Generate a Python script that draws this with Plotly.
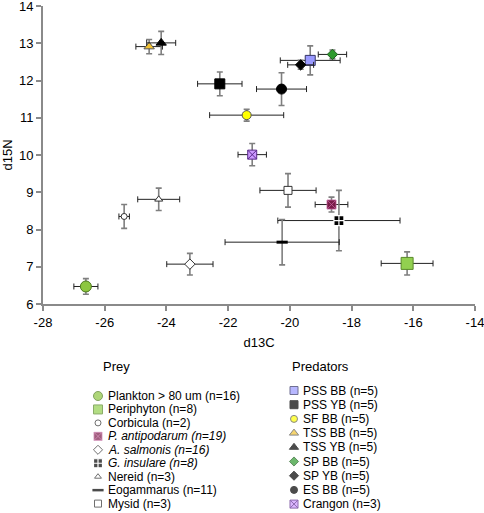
import plotly.graph_objects as go

# ---------------- data ----------------
prey_names = ["Plankton > 80 um (n=16)", "Periphyton (n=8)", "Corbicula (n=2)",
              "<i>P. antipodarum (n=19)</i>", "<i>A. salmonis (n=16)</i>", "<i>G. insulare (n=8)</i>",
              "Nereid (n=3)", "Eogammarus (n=11)", "Mysid (n=3)"]
prey_d13c = [-26.61, -16.20, -25.37, -18.65, -23.24, -18.41, -24.25, -20.25, -20.06]
prey_d15n = [6.47, 7.09, 8.35, 8.67, 7.07, 8.24, 8.81, 7.66, 9.05]
prey_d13c_err = [0.39, 0.84, 0.17, 0.53, 0.75, 1.98, 0.68, 1.85, 0.91]
prey_d15n_err = [0.21, 0.31, 0.32, 0.20, 0.29, 0.81, 0.30, 0.61, 0.45]

pred_names = ["PSS BB (n=5)", "PSS YB (n=5)", "SF BB (n=5)", "TSS BB (n=5)", "TSS YB (n=5)",
              "SP BB (n=5)", "SP YB (n=5)", "ES BB (n=5)", "Crangon (n=3)"]
pred_d13c = [-19.34, -22.27, -21.40, -24.56, -24.17, -18.62, -19.65, -20.27, -21.22]
pred_d15n = [12.54, 11.91, 11.07, 12.91, 13.01, 12.70, 12.42, 11.77, 10.01]
pred_d13c_err = [0.97, 0.72, 1.20, 0.43, 0.47, 0.46, 0.42, 0.81, 0.46]
pred_d15n_err = [0.39, 0.32, 0.16, 0.19, 0.31, 0.12, 0.12, 0.44, 0.30]

x_ticks = [-28, -26, -24, -22, -20, -18, -16, -14]
y_ticks = [6, 7, 8, 9, 10, 11, 12, 13, 14]

# ---------------- styles ----------------
prey_styles = [
    dict(symbol="circle", color="#8CC63F", line=dict(color="#4E7A1E", width=1), size=11, lsize=9),
    dict(symbol="square", color="#92D050", line=dict(color="#5A8A2A", width=1), size=12, lsize=9),
    dict(symbol="circle", color="white", line=dict(color="#333", width=1), size=6, lsize=6),
    dict(symbol="square-x", color="#7A1B48", line=dict(color="#C0609A", width=0.8), size=9, lsize=8),
    dict(symbol="diamond", color="white", line=dict(color="#333", width=1), size=8, lsize=7),
    dict(symbol="square-cross", color="black", line=dict(color="white", width=1.2), size=10, lsize=9),
    dict(symbol="triangle-up", color="white", line=dict(color="#333", width=1), size=7, lsize=6),
    dict(symbol="line-ew", color="black", line=dict(color="black", width=3), size=8, lsize=8),
    dict(symbol="square", color="white", line=dict(color="#333", width=1), size=8, lsize=7),
]
pred_styles = [
    dict(symbol="square", color="#9999FF", line=dict(color="#333366", width=1), size=10, lsize=8),
    dict(symbol="square", color="black", line=dict(color="black", width=1), size=10, lsize=8),
    dict(symbol="circle", color="#FFFF00", line=dict(color="#555", width=1), size=9, lsize=7),
    dict(symbol="triangle-up", color="#F2C232", line=dict(color="#555", width=1), size=9, lsize=8),
    dict(symbol="triangle-up", color="black", line=dict(color="black", width=1), size=9, lsize=8),
    dict(symbol="diamond", color="#2E9A2E", line=dict(color="#1E5E1E", width=1), size=8, lsize=7),
    dict(symbol="diamond", color="black", line=dict(color="black", width=1), size=8, lsize=7),
    dict(symbol="circle", color="black", line=dict(color="black", width=1), size=10, lsize=7),
    dict(symbol="square-x", color="#CC99FF", line=dict(color="#5A2A8A", width=1), size=9, lsize=8),
]

W, H = 484, 513
PLOT_L, PLOT_R, PLOT_T, PLOT_B = 43, 475, 6, 304
FONT = "Liberation Sans, Arial, sans-serif"
ERR_X = dict(color="#222222", thickness=1, width=3)
ERR_Y = dict(color="#7f7f7f", thickness=1.6, width=3)

fig = go.Figure()


def add_group(names, xs, ys, xe, ye, styles):
    for n, x, y, ex, ey, st in zip(names, xs, ys, xe, ye, styles):
        fig.add_trace(go.Scatter(
            x=[x], y=[y], mode="markers", name=n, showlegend=False,
            marker=dict(symbol=st["symbol"], color=st["color"], size=st["size"], line=st["line"]),
            error_x=dict(type="data", array=[ex], visible=True, **ERR_X),
            error_y=dict(type="data", array=[ey], visible=True, **ERR_Y),
            xaxis="x", yaxis="y"))


add_group(prey_names, prey_d13c, prey_d15n, prey_d13c_err, prey_d15n_err, prey_styles)
add_group(pred_names, pred_d13c, pred_d15n, pred_d13c_err, pred_d15n_err, pred_styles)

# ---------------- manual legend (pixel-coordinate overlay axes) ----------------
def add_legend(names, styles, title, mx, tx, y0, dy, title_x, title_y):
    ys = [y0 + i * dy for i in range(len(names))]
    fig.add_trace(go.Scatter(
        x=[mx] * len(names), y=ys, mode="markers", showlegend=False, hoverinfo="skip",
        marker=dict(symbol=[s["symbol"] for s in styles], color=[s["color"] for s in styles],
                    size=[s["lsize"] for s in styles],
                    line=dict(color=[s["line"]["color"] for s in styles],
                              width=[min(s["line"]["width"], 1.5) if s["symbol"] != "line-ew" else 2.5
                                     for s in styles])),
        xaxis="x2", yaxis="y2", cliponaxis=False))
    for n, yy in zip(names, ys):
        fig.add_annotation(x=tx, y=yy, xref="x2", yref="y2", text=n, showarrow=False,
                           xanchor="left", yanchor="middle", font=dict(size=12, color="black", family=FONT))
    fig.add_annotation(x=title_x, y=title_y, xref="x2", yref="y2", text=title, showarrow=False,
                       xanchor="left", yanchor="middle", font=dict(size=13, color="black", family=FONT))


add_legend(prey_names, prey_styles, "Prey", 98, 106, 396, 13.45, 101, 366)
add_legend(pred_names, pred_styles, "Predators", 294, 301, 390.5, 14.2, 290, 366)

axis_col = "#8a8a8a"
fig.update_layout(
    width=W, height=H,
    template="none",
    margin=dict(l=0, r=0, t=0, b=0, pad=0, autoexpand=False),
    paper_bgcolor="white", plot_bgcolor="rgba(0,0,0,0)",
    font=dict(family=FONT, size=13, color="black"),
    xaxis=dict(domain=[PLOT_L / W, PLOT_R / W], range=[-28, -14], tickvals=x_ticks,
               ticktext=[str(v) for v in x_ticks], automargin=False, ticklabeloverflow="allow",
               showgrid=False, zeroline=False, showline=True, linecolor=axis_col, linewidth=2,
               ticks="outside", ticklen=5, tickcolor=axis_col, tickwidth=1.5,
               title=dict(text="d13C", font=dict(size=13), standoff=9), anchor="y"),
    yaxis=dict(domain=[(H - PLOT_B) / H, (H - PLOT_T) / H], range=[6, 14], tickvals=y_ticks,
               automargin=False, ticklabeloverflow="allow",
               showgrid=False, zeroline=False, showline=True, linecolor=axis_col, linewidth=2,
               ticks="outside", ticklen=5, tickcolor=axis_col, tickwidth=1.5,
               title=dict(text="d15N", font=dict(size=13), standoff=6), anchor="x"),
    xaxis2=dict(domain=[0, 1], range=[0, W], visible=False, anchor="y2", fixedrange=True,
                automargin=False),
    yaxis2=dict(domain=[0, 1], range=[H, 0], visible=False, anchor="x2", fixedrange=True,
                automargin=False),
)

fig.write_html("out.html", config={"displayModeBar": False},
               post_script="document.body.style.margin='0px';")
